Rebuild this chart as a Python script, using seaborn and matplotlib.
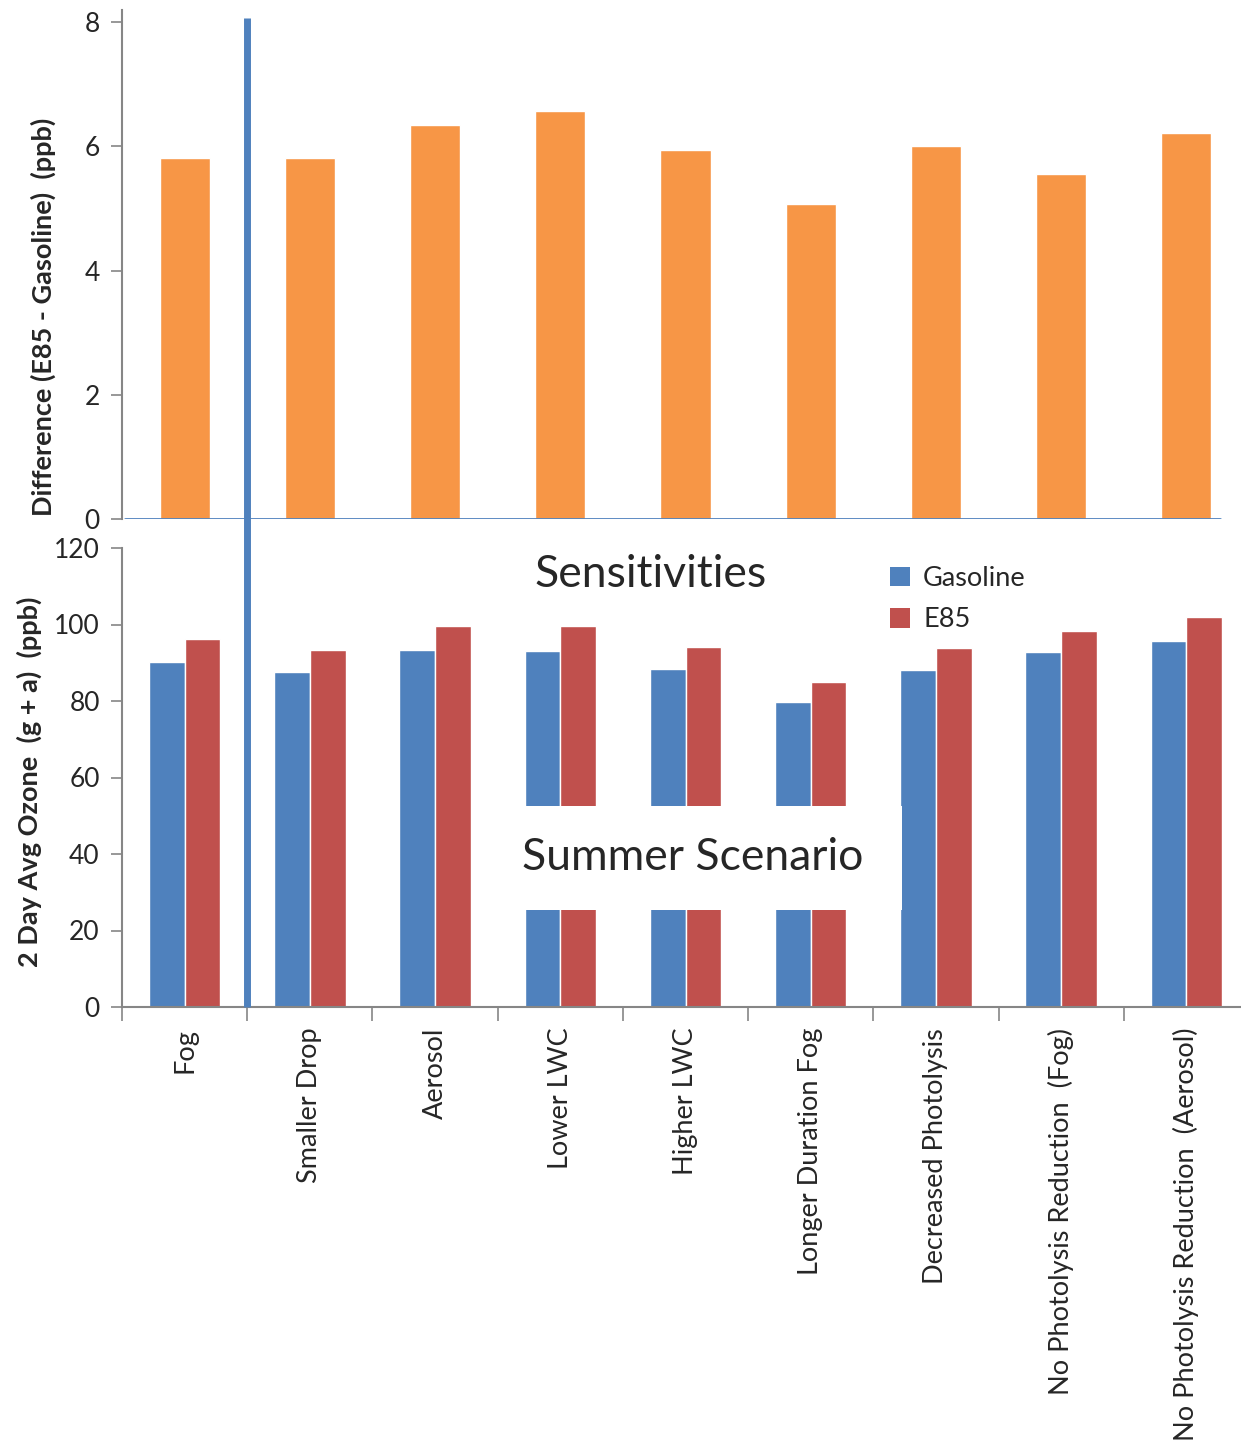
import matplotlib
matplotlib.use("Agg")
import matplotlib.pyplot as plt
import matplotlib.transforms as mtransforms
from matplotlib.lines import Line2D
from matplotlib.patches import Rectangle, Patch
import pandas as pd
import seaborn as sns

# ---- data ----
scenarios = [
    "Fog", "Smaller Drop", "Aerosol", "Lower LWC", "Higher LWC",
    "Longer Duration Fog", "Decreased Photolysis",
    "No Photolysis Reduction  (Fog)", "No Photolysis Reduction  (Aerosol)",
]
gasoline = [90.2, 87.6, 93.3, 93.1, 88.4, 79.7, 88.1, 92.8, 95.7]
e85 = [96.2, 93.3, 99.6, 99.6, 94.1, 85.0, 93.9, 98.3, 102.0]
difference = [5.81, 5.81, 6.34, 6.57, 5.94, 5.07, 6.01, 5.56, 6.22]
fuels = ["Gasoline", "E85"]
top_yticks = [0, 2, 4, 6, 8]
bottom_yticks = [0, 20, 40, 60, 80, 100, 120]

BLUE = "#4F81BD"
RED = "#C0504D"
ORANGE = "#F79646"
AXIS_GREY = "#868686"

sns.set_style("ticks")
plt.rcParams["font.family"] = ["Lato", "DejaVu Sans"]

df_diff = pd.DataFrame({"scenario": scenarios, "diff": difference})
df_oz = pd.DataFrame({
    "scenario": scenarios * 2,
    "ozone": gasoline + e85,
    "fuel": [fuels[0]] * len(scenarios) + [fuels[1]] * len(scenarios),
})

W, H = 1241, 1444
fig = plt.figure(figsize=(W / 100, H / 100), dpi=100)

left = 122 / W
width = 1127 / W
ax1 = fig.add_axes([left, 1 - 519 / H, width, (519 - 10) / H])
ax2 = fig.add_axes([left, 1 - 1007 / H, width, (1007 - 548) / H])

# ---- top panel: E85 minus gasoline ----
sns.barplot(data=df_diff, x="scenario", y="diff", color=ORANGE,
            saturation=1, width=0.4, ax=ax1)
ax1.set_xlim(-0.5, len(scenarios) - 0.5)
ax1.set_ylim(0, 8.196)
ax1.set_yticks(top_yticks)
ax1.set_xticks([])
ax1.set_xlabel("")
ax1.set_ylabel("Difference (E85 - Gasoline)  (ppb)", fontsize=19.5,
               fontweight="bold")
ax1.yaxis.set_label_coords(-0.059, 0.397)
for s in ["top", "right", "bottom"]:
    ax1.spines[s].set_visible(False)
ax1.spines["left"].set_color(AXIS_GREY)
ax1.axhline(0, xmin=0.003, xmax=0.974, color=BLUE, lw=2, zorder=5)

# ---- bottom panel: 2-day average ozone ----
sns.barplot(data=df_oz, x="scenario", y="ozone", hue="fuel",
            palette=[BLUE, RED], saturation=1, width=0.57, ax=ax2,
            legend=False)
ax2.set_xlim(-0.5, len(scenarios) - 0.5)
ax2.set_ylim(0, 120)
ax2.set_yticks(bottom_yticks)
ax2.set_xticks(range(len(scenarios)))
ax2.set_xticklabels(scenarios, rotation=90, fontsize=19.5)
ax2.set_xticks([i - 0.5 for i in range(len(scenarios) + 1)], minor=True)
ax2.tick_params(axis="x", which="major", length=0, pad=15)
ax2.tick_params(axis="x", which="minor", length=10, width=1.2,
                color=AXIS_GREY, direction="out")
ax2.set_xlabel("")
ax2.set_ylabel("2 Day Avg Ozone  (g + a)  (ppb)", fontsize=19.5,
               fontweight="bold")
ax2.yaxis.set_label_coords(-0.071, 0.49)
for s in ["top", "right"]:
    ax2.spines[s].set_visible(False)
for s in ["left", "bottom"]:
    ax2.spines[s].set_color(AXIS_GREY)
    ax2.spines[s].set_linewidth(1.5)

for ax in (ax1, ax2):
    ax.tick_params(axis="y", length=8, width=1.2, color=AXIS_GREY,
                   labelsize=19, pad=8)
    ax.spines["left"].set_linewidth(1.5)

# white panel with scenario title
ax2.add_patch(Rectangle((2.52, 25.4), 5.73 - 2.52, 52.5 - 25.4,
                        facecolor="white", edgecolor="none", zorder=6))
ax2.text(4.06, 39, "Summer Scenario", fontsize=32, ha="center",
         va="center", zorder=7)
ax2.text(3.72, 113, "Sensitivities", fontsize=32, ha="center",
         va="center", zorder=7)

handles = [Patch(facecolor=BLUE, edgecolor="none"),
           Patch(facecolor=RED, edgecolor="none")]
ax2.legend(handles, fuels, loc="upper left", bbox_to_anchor=(0.672, 0.984),
           frameon=False, fontsize=19.5, handlelength=0.72, handleheight=0.72,
           handletextpad=0.5, labelspacing=0.6, borderaxespad=0)

# vertical separator spanning both panels
trans = mtransforms.blended_transform_factory(ax2.transData, fig.transFigure)
fig.add_artist(Line2D([0.5, 0.5], [1 - 1007 / H, 1 - 18 / H],
                      transform=trans, color=BLUE, lw=5,
                      solid_capstyle="butt", zorder=10))

fig.savefig("out.png", dpi=100, facecolor="white")
